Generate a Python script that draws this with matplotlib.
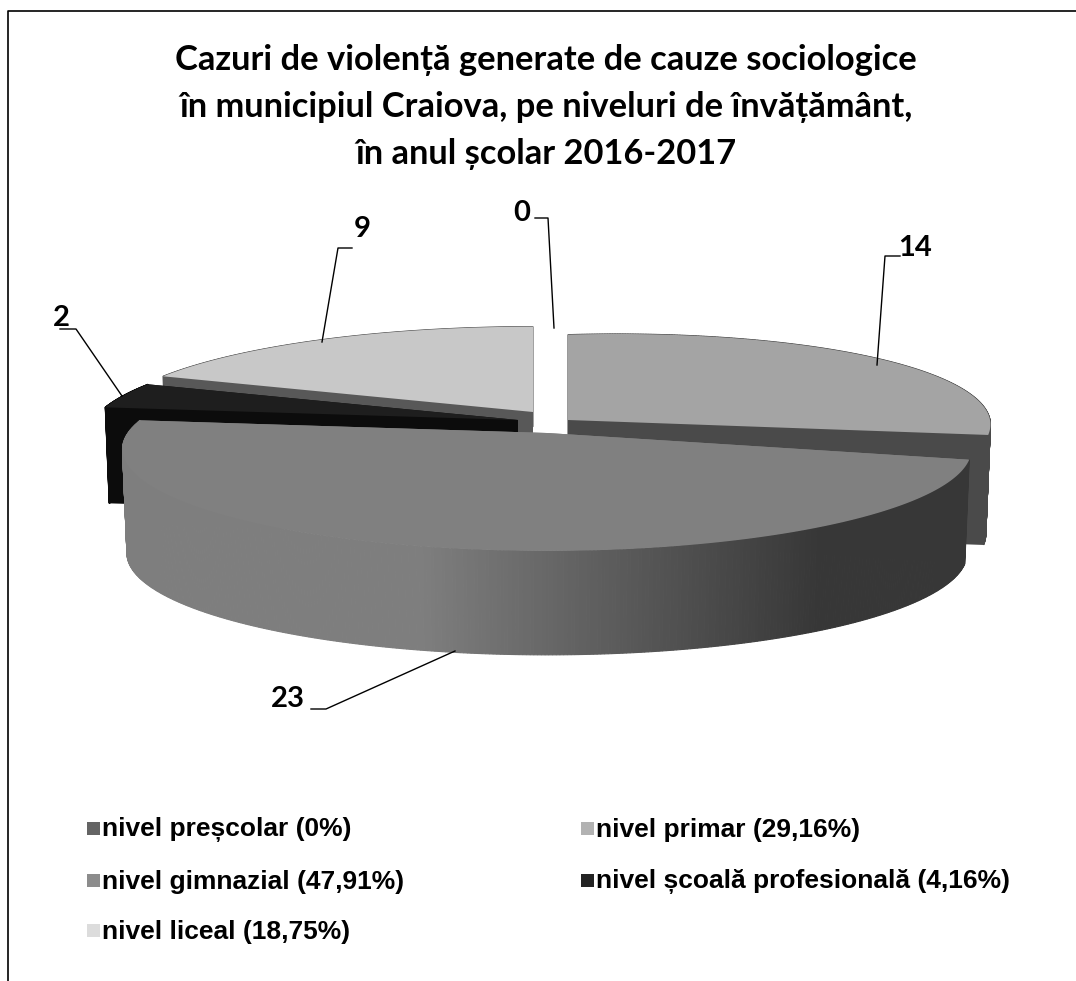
import numpy as np
import matplotlib
matplotlib.use("Agg")
import matplotlib.pyplot as plt
from matplotlib.patches import Polygon, Rectangle

title = "Cazuri de violență generate de cauze sociologice\nîn municipiul Craiova, pe niveluri de învățământ,\nîn anul școlar 2016-2017"
categories = ["nivel preșcolar", "nivel primar", "nivel gimnazial", "nivel școală profesională", "nivel liceal"]
values = [0, 14, 23, 2, 9]
percents = ["0%", "29,16%", "47,91%", "4,16%", "18,75%"]

legend_colors = ["#646464", "#b2b2b2", "#8c8c8c", "#232323", "#dcdcdc"]
top_colors = ["#646464", "#a4a4a4", "#808080", "#1e1e1e", "#c8c8c8"]
wall_colors = ["#4a4a4a", "#4a4a4a", "#808080", "#0c0c0c", "#585858"]

# pie geometry, pixels
cx, cy = 548, 428
ry = 99
persp = 0.16
offsets = [(6, -100), (20, 8), (-1, -5), (-30, 8), (-15, 16)]
slice_rx = [425, 417, 419, 425, 425]
slice_depth = [100, 110, 104, 96, 100]
tilts = [0, -0.028, 0, 0, 0]


def project(i, theta, down=0):
    # theta clockwise from the top of the disc
    ox, oy = offsets[i]
    u = np.sin(theta)
    v = np.cos(theta)
    w = 1 + persp * v
    shrink = 1 - 0.01 * down / 100
    dx = slice_rx[i] * u / w
    x = cx + ox + dx * shrink
    y = cy - oy - ry * v / w + down + tilts[i] * dx
    return x, y


fig = plt.figure(figsize=(10.76, 9.81), dpi=100)
ax = fig.add_axes([0, 0, 1, 1])
ax.set_xlim(0, 1076)
ax.set_ylim(981, 0)
ax.axis("off")

# chart frame
ax.plot([7.5, 7.5, 1076], [981, 10.5, 10.5], color="black", lw=1.2)

angles = np.cumsum([0] + values) / sum(values) * 2 * np.pi
z_order = {4: 2, 1: 3, 3: 4, 2: 5}


def draw_slice(i):
    a0, a1 = angles[i], angles[i + 1]
    ox, oy = offsets[i]
    depth = slice_depth[i]
    apex = (cx + ox, cy - oy)
    th = np.linspace(a0, a1, 400)
    # cut faces
    for a in (a0, a1):
        x, y = project(i, a)
        x2, y2 = project(i, a, depth)
        ax.add_patch(Polygon([apex, (x, y), (x2, y2), (apex[0], apex[1] + depth)],
                             fc=wall_colors[i], ec="none", zorder=z_order[i]))
    # outer wall, shaded strip by strip on the big slice
    for t0, t1 in zip(th[:-1], th[1:]):
        xa, ya = project(i, t0)
        xb, yb = project(i, t1)
        xc, yc = project(i, t1, depth)
        xd, yd = project(i, t0, depth)
        if i == 2:
            s = np.clip(((xa + xb) / 2 - 420) / (820 - 420), 0, 1)
            g = 0x7e + (0x37 - 0x7e) * s
            col = (g / 255, g / 255, g / 255)
        else:
            col = wall_colors[i]
        ax.add_patch(Polygon([(xa, ya), (xb, yb), (xc, yc), (xd, yd)], fc=col, ec=col, lw=0.8, zorder=z_order[i]))
    xs, ys = project(i, th)
    ax.add_patch(Polygon([apex] + list(zip(xs, ys)), fc=top_colors[i], ec="none", zorder=z_order[i] + 0.5))


for i in [4, 1, 3, 2]:
    draw_slice(i)

# title
ax.text(546, 107, title, ha="center", va="center", fontsize=24.8, fontweight="bold",
        family="Lato", linespacing=1.56, color="black")

# data labels with leader lines
label_font = dict(fontsize=21, fontweight="bold", family="Lato", ha="center", va="center", color="black")
leaders = [[(554, 328), (548, 218), (535, 218)],
           [(877, 365), (885, 256), (900, 256)],
           [(455, 651), (326, 709), (311, 709)],
           [(122, 396), (76, 329), (60, 329)],
           [(322, 342), (338, 248), (352, 248)]]
label_pos = [(522, 213), (915, 248), (288, 699), (61, 318), (362, 229)]
for val, line, pos in zip(values, leaders, label_pos):
    ax.plot(*zip(*line), color="black", lw=1, zorder=8)
    ax.text(pos[0], pos[1], str(val), **label_font)

# legend
legend_pos = [(87, 828), (581, 828), (87, 880), (581, 880), (87, 930)]
for name, pct, col, (lx, ly) in zip(categories, percents, legend_colors, legend_pos):
    ax.add_patch(Rectangle((lx, ly - 6.5), 13, 13, fc=col, ec="none"))
    ax.text(lx + 15, ly + 1.5, f"{name} ({pct})", fontsize=19, fontweight="bold",
            family="Liberation Sans", va="center", ha="left", color="black")

fig.savefig("out.png", dpi=100)
